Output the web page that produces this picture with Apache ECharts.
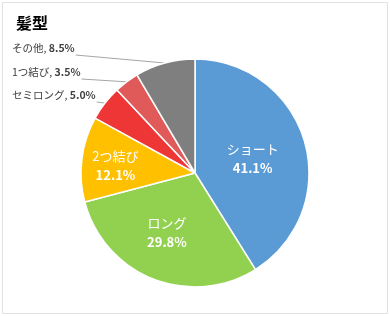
<!DOCTYPE html>
<html>
<head>
<meta charset="utf-8">
<script src="https://cdn.jsdelivr.net/npm/echarts@6/dist/echarts.min.js"></script>
<style>
html,body{margin:0;padding:0;background:#fff;}
#c{width:390px;height:316px;}
</style>
</head>
<body>
<div id="c"></div>
<script>
const titleText = '髪型';
const categories = ['ショート', 'ロング', '2つ結び', 'セミロング', '1つ結び', 'その他'];
const values = [41.1, 29.8, 12.1, 5.0, 3.5, 8.5];
const colors = ['#5B9BD5', '#92D050', '#FFC000', '#EE3636', '#E05A5A', '#7F7F7F'];
const outsideIdx = [3, 4, 5];
const outsideLabelY = {5: 48, 4: 72, 3: 95};
const insideOffsets = {0: [0, 2], 1: [-6, 4], 2: [-20, 0]};

const FONT = '"Noto Sans CJK JP", "Noto Sans", sans-serif';

const data = categories.map((name, i) => {
  const item = { name: name, value: values[i], itemStyle: { color: colors[i] } };
  if (outsideIdx.indexOf(i) >= 0) {
    item.label = {
      show: true,
      position: 'outside',
      formatter: p => '{n|' + p.name + ', }{v|' + p.value.toFixed(1) + '%}',
      rich: {
        n: { fontSize: 10.5, color: '#404040', fontFamily: FONT },
        v: { fontSize: 10.5, color: '#404040', fontWeight: 'bold', fontFamily: FONT }
      }
    };
    item.labelLine = { show: true, lineStyle: { color: '#A6A6A6', width: 1 } };
  } else {
    item.label = {
      show: true,
      position: 'inside',
      offset: insideOffsets[i],
      formatter: p => '{n|' + p.name + '}\n{v|' + p.value.toFixed(1) + '%}',
      rich: {
        n: { fontSize: 13, color: '#FFFFFF', fontFamily: FONT, lineHeight: 19, align: 'center' },
        v: { fontSize: 13, color: '#FFFFFF', fontWeight: 'bold', fontFamily: FONT, lineHeight: 19, align: 'center' }
      }
    };
    item.labelLine = { show: false };
  }
  return item;
});

const chart = echarts.init(document.getElementById('c'), null, { renderer: 'canvas' });
chart.setOption({
  backgroundColor: '#FFFFFF',
  animation: false,
  graphic: [{
    type: 'rect', silent: true,
    shape: { x: 2.5, y: 2.5, width: 385, height: 311 },
    style: { fill: 'none', stroke: '#E2E2E2', lineWidth: 1 }
  }],
  title: {
    text: titleText, left: 11, top: 10,
    textStyle: { fontSize: 16, fontWeight: 'bold', color: '#000', fontFamily: FONT }
  },
  series: [{
    type: 'pie',
    center: [195, 173],
    radius: [0, 114],
    startAngle: 90,
    clockwise: true,
    avoidLabelOverlap: false,
    itemStyle: { borderColor: '#FFFFFF', borderWidth: 1.5 },
    data: data,
    labelLayout: function (params) {
      const i = params.dataIndex;
      if (outsideIdx.indexOf(i) < 0) return {};
      const y = outsideLabelY[i];
      const x = 12;
      const w = params.labelRect.width;
      const p0 = params.labelLinePoints ? params.labelLinePoints[0] : null;
      const res = { x: x, y: y, align: 'left', verticalAlign: 'middle' };
      if (p0) {
        const end = [x + w + 1, y + 7];
        res.labelLinePoints = [p0, end, end];
      }
      return res;
    }
  }]
});
</script>
</body>
</html>
